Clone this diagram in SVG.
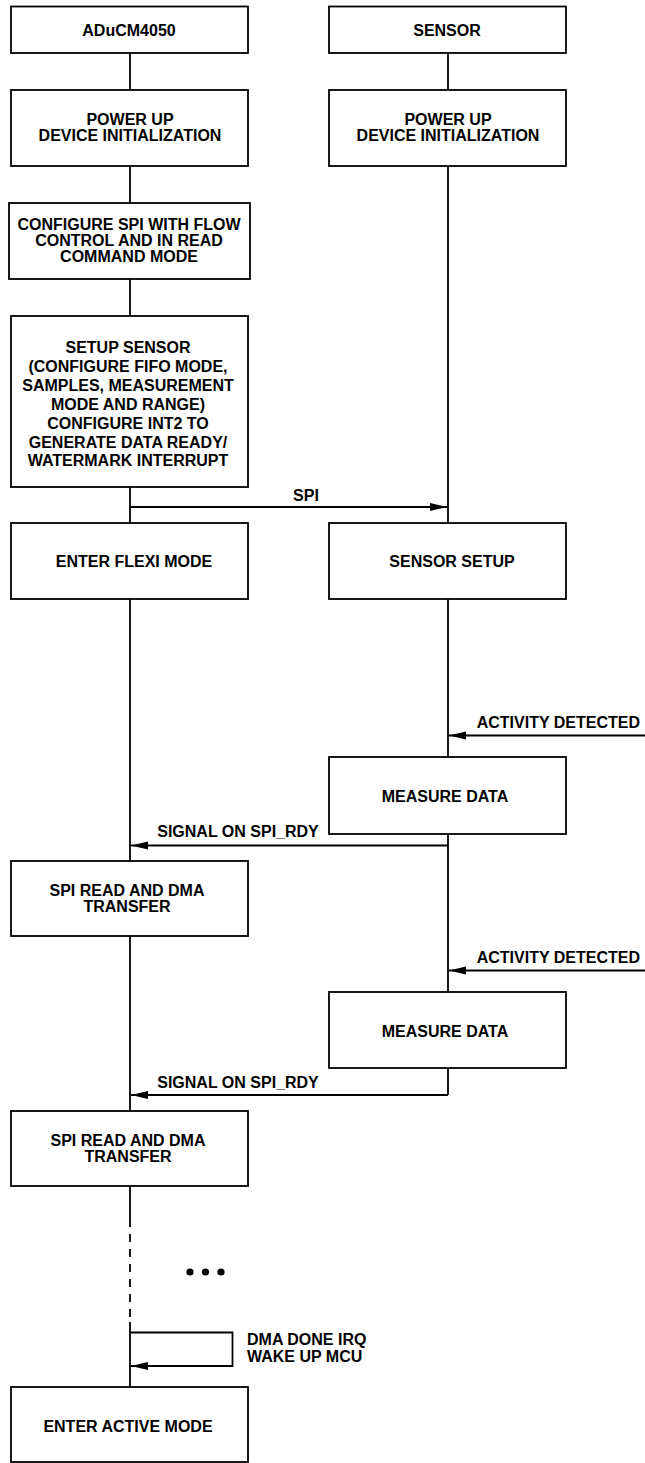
<svg xmlns="http://www.w3.org/2000/svg" width="645" height="1463" viewBox="0 0 645 1463">
<style>
.box{fill:#fff;stroke:#000;stroke-width:1.8}
.ln{fill:none;stroke:#000;stroke-width:1.8}
.t{font-family:"Liberation Sans",Arial,sans-serif;font-weight:bold;font-size:16px;fill:#000;text-anchor:middle}
.l{text-anchor:start}
.e{text-anchor:end}
</style>
<defs>
<marker id="ah" markerUnits="userSpaceOnUse" markerWidth="18" markerHeight="10" refX="17" refY="4" orient="auto" viewBox="0 0 18 8">
<path d="M0,0 L17,4 L0,8 z" fill="#000"/>
</marker>
</defs>
<rect width="645" height="1463" fill="#fff"/>
<g id="connectors">
<line class="ln" x1="130" y1="53" x2="130" y2="90"/>
<line class="ln" x1="130" y1="166" x2="130" y2="203"/>
<line class="ln" x1="130" y1="279" x2="130" y2="316"/>
<line class="ln" x1="130" y1="487" x2="130" y2="523"/>
<line class="ln" x1="130" y1="599" x2="130" y2="861"/>
<line class="ln" x1="130" y1="936" x2="130" y2="1111"/>
<line class="ln" x1="130" y1="1186" x2="130" y2="1219"/>
<line class="ln" x1="130" y1="1219" x2="130" y2="1322" stroke-dasharray="8,7"/>
<line class="ln" x1="130" y1="1322" x2="130" y2="1387"/>
<line class="ln" x1="448" y1="53" x2="448" y2="90"/>
<line class="ln" x1="448" y1="166" x2="448" y2="523"/>
<line class="ln" x1="448" y1="599" x2="448" y2="757"/>
<line class="ln" x1="448" y1="834" x2="448" y2="992"/>
<path class="ln" d="M448,1068 V1095"/>
<line class="ln" x1="130" y1="507" x2="447" y2="507" marker-end="url(#ah)"/>
<line class="ln" x1="645" y1="735.5" x2="449" y2="735.5" marker-end="url(#ah)"/>
<line class="ln" x1="448" y1="845.5" x2="131" y2="845.5" marker-end="url(#ah)"/>
<line class="ln" x1="645" y1="970.5" x2="449" y2="970.5" marker-end="url(#ah)"/>
<path class="ln" d="M448,1095 H131" marker-end="url(#ah)"/>
<path class="ln" d="M130,1332.5 H232.5 V1366 H131" marker-end="url(#ah)"/>
<text class="t" x="306" y="501">SPI</text>
<text class="t e" x="640" y="728.3">ACTIVITY DETECTED</text>
<text class="t" x="238" y="837.3">SIGNAL ON SPI_RDY</text>
<text class="t e" x="640" y="962.7">ACTIVITY DETECTED</text>
<text class="t" x="238" y="1088.3">SIGNAL ON SPI_RDY</text>
<text class="t l" x="247" y="1345">DMA DONE IRQ</text>
<text class="t l" x="247" y="1361.7">WAKE UP MCU</text>
<circle cx="190" cy="1272" r="3.6" fill="#000"/>
<circle cx="205.5" cy="1272" r="3.6" fill="#000"/>
<circle cx="221" cy="1272" r="3.6" fill="#000"/>
</g>
<g id="n_aducm"><rect class="box" x="11" y="6.5" width="237" height="46.5"/><text class="t" x="129" y="36">ADuCM4050</text></g>
<g id="n_sensor"><rect class="box" x="329" y="6.5" width="237" height="46.5"/><text class="t" x="447" y="36">SENSOR</text></g>
<g id="n_pu1"><rect class="box" x="11" y="90" width="237" height="76"/><text class="t" x="130" y="125">POWER UP</text><text class="t" x="130" y="141">DEVICE INITIALIZATION</text></g>
<g id="n_pu2"><rect class="box" x="329" y="90" width="237" height="76"/><text class="t" x="448" y="125">POWER UP</text><text class="t" x="448" y="141">DEVICE INITIALIZATION</text></g>
<g id="n_cfgspi"><rect class="box" x="9" y="203" width="241" height="76"/><text class="t" x="129" y="230">CONFIGURE SPI WITH FLOW</text><text class="t" x="129" y="246">CONTROL AND IN READ</text><text class="t" x="129" y="262">COMMAND MODE</text></g>
<g id="n_setup"><rect class="box" x="11" y="316" width="237" height="171"/>
<text class="t" x="128" y="353.3">SETUP SENSOR</text>
<text class="t" x="128" y="372">(CONFIGURE FIFO MODE,</text>
<text class="t" x="128" y="391">SAMPLES, MEASUREMENT</text>
<text class="t" x="128" y="410">MODE AND RANGE)</text>
<text class="t" x="128" y="429">CONFIGURE INT2 TO</text>
<text class="t" x="128" y="447.7">GENERATE DATA READY/</text>
<text class="t" x="128" y="466">WATERMARK INTERRUPT</text></g>
<g id="n_flexi"><rect class="box" x="11" y="523" width="237" height="76"/><text class="t" x="134" y="566.7">ENTER FLEXI MODE</text></g>
<g id="n_ssetup"><rect class="box" x="329" y="523" width="237" height="76"/><text class="t" x="452" y="566.7">SENSOR SETUP</text></g>
<g id="n_meas1"><rect class="box" x="329" y="757" width="237" height="77"/><text class="t" x="445" y="801.7">MEASURE DATA</text></g>
<g id="n_spird1"><rect class="box" x="11" y="861" width="237" height="75"/><text class="t" x="127" y="896">SPI READ AND DMA</text><text class="t" x="127" y="912">TRANSFER</text></g>
<g id="n_meas2"><rect class="box" x="329" y="992" width="237" height="76"/><text class="t" x="445" y="1037.3">MEASURE DATA</text></g>
<g id="n_spird2"><rect class="box" x="11" y="1111" width="237" height="75"/><text class="t" x="128" y="1146">SPI READ AND DMA</text><text class="t" x="128" y="1162.3">TRANSFER</text></g>
<g id="n_active"><rect class="box" x="11" y="1387" width="237" height="75"/><text class="t" x="128" y="1431.7">ENTER ACTIVE MODE</text></g>
</svg>
